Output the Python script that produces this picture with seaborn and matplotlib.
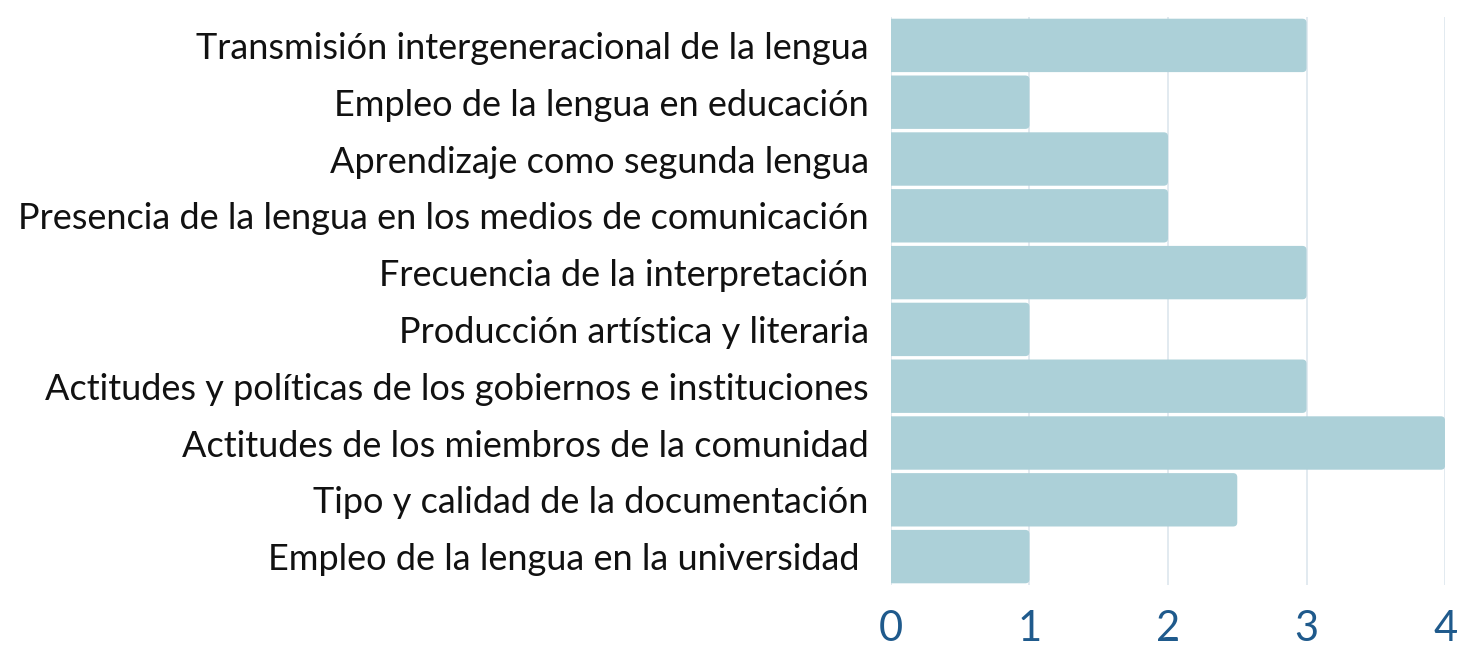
import matplotlib
matplotlib.use("Agg")
import matplotlib.pyplot as plt
import seaborn as sns
import pandas as pd
from matplotlib.patches import FancyBboxPatch

categorias = [
    "Transmisión intergeneracional de la lengua",
    "Empleo de la lengua en educación",
    "Aprendizaje como segunda lengua",
    "Presencia de la lengua en los medios de comunicación",
    "Frecuencia de la interpretación",
    "Producción artística y literaria",
    "Actitudes y políticas de los gobiernos e instituciones",
    "Actitudes de los miembros de la comunidad",
    "Tipo y calidad de la documentación",
    "Empleo de la lengua en la universidad ",
]
valores = [3, 1, 2, 2, 3, 1, 3, 4, 2.5, 1]
ticks_x = [0, 1, 2, 3, 4]

df = pd.DataFrame({"categoria": categorias, "valor": valores})

sns.set_style("white")
plt.rcParams["font.family"] = ["Lato", "DejaVu Sans"]

fig = plt.figure(figsize=(14.57, 6.49), dpi=100)
ax = fig.add_axes([0.6115, 0.0986, 0.3803, 0.8752])

sns.barplot(data=df, x="valor", y="categoria", color="#acd0d8",
            saturation=1, width=0.94, ax=ax, zorder=2)

# rounded right corners
for p in list(ax.patches):
    x, y = p.get_x(), p.get_y()
    w, h = p.get_width(), p.get_height()
    p.remove()
    box = FancyBboxPatch((x - 0.1, y), w + 0.1, h,
                         boxstyle="round,pad=0,rounding_size=0.03",
                         mutation_aspect=2.4, facecolor="#acd0d8",
                         edgecolor="none", zorder=2, clip_on=True)
    ax.add_patch(box)

ax.set_xlim(0, 4)
ax.set_ylim(9.5, -0.5)
ax.set_xticks(ticks_x)
ax.set_xticklabels([str(t) for t in ticks_x], fontsize=30, color="#1f5a8c")
ax.tick_params(axis="x", length=0, pad=18)
ax.tick_params(axis="y", length=0, pad=16, labelsize=26, labelcolor="#111111")
ax.xaxis.grid(True, color="#dde6ee", linewidth=1.2, zorder=0)
ax.set_axisbelow(True)
for s in ax.spines.values():
    s.set_visible(False)
ax.set_xlabel("")
ax.set_ylabel("")

fig.savefig("out.png", dpi=100)
